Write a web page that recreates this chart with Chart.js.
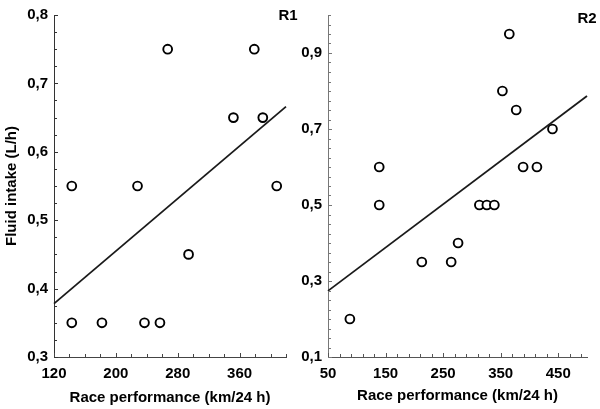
<!DOCTYPE html>
<html>
<head>
<meta charset="utf-8">
<script src="https://cdn.jsdelivr.net/npm/chart.js@4"></script>
<style>
  html, body { margin: 0; padding: 0; background: #fff; }
  #wrap { position: relative; width: 600px; height: 409px; }
  canvas { position: absolute; top: 0; }
  #c1 { left: 0; }
  #c2 { left: 300px; }
</style>
</head>
<body>
<div id="wrap">
  <canvas id="c1" width="300" height="409"></canvas>
  <canvas id="c2" width="300" height="409"></canvas>
</div>
<script>
// ---- Data ----
const r1X = [143, 228, 267, 379, 352, 390, 408, 294, 143, 182, 237, 257];
const r1Y = [0.55, 0.55, 0.75, 0.75, 0.65, 0.65, 0.55, 0.45, 0.35, 0.35, 0.35, 0.35];
const r1FitX = [120, 420];
const r1FitY = [0.378, 0.666];

const r2X = [365, 353, 377, 440, 389, 413, 139, 139, 313, 326, 339, 276, 213, 264, 88];
const r2Y = [0.95, 0.80, 0.75, 0.70, 0.60, 0.60, 0.60, 0.50, 0.50, 0.50, 0.50, 0.40, 0.35, 0.35, 0.20];
const r2FitX = [50, 500];
const r2FitY = [0.274, 0.787];

// Axis ranges and tick labels
const r1XRange = [120, 420];
const r1XMinorStep = 20;
const r1XLabels = [120, 200, 280, 360];
const r1YRange = [0.3, 0.8];
const r1YMinorStep = 0.025;
const r1YLabels = [0.3, 0.4, 0.5, 0.6, 0.7, 0.8];

const r2XRange = [50, 500];
const r2XMinorStep = 20;
const r2XLabels = [50, 150, 250, 350, 450];
const r2YRange = [0.1, 1.0];
const r2YMinorStep = 0.025;
const r2YLabels = [0.1, 0.3, 0.5, 0.7, 0.9];

const xTitle = 'Race performance (km/24 h)';
const yTitle = 'Fluid intake (L/h)';

// ---- Helpers ----
const FONT = { family: '"Liberation Sans", Arial, sans-serif', size: 15, weight: 'bold' };

function pts(xs, ys) { return xs.map((x, i) => ({ x: x, y: ys[i] })); }

function minorTicks(range, step) {
  const out = [];
  const n = Math.round((range[1] - range[0]) / step);
  for (let i = 0; i <= n; i++) {
    const v = +(range[0] + i * step).toFixed(6);
    if (v <= range[1] + 1e-9) out.push({ value: v });
  }
  return out;
}

function isLabel(v, labels) { return labels.some(l => Math.abs(l - v) < 1e-6); }

function fmt(v, dec) { return v.toFixed(dec).replace('.', ','); }

const innerTicks = {
  id: 'innerTicks',
  afterDraw(chart) {
    const ctx = chart.ctx;
    const area = chart.chartArea;
    ctx.save();
    ctx.lineWidth = 1;
    const xs = chart.scales.x, ys = chart.scales.y;
    ctx.strokeStyle = xs.options.border.color;
    xs.ticks.forEach(t => {
      const px = Math.round(xs.getPixelForValue(t.value)) + 0.5;
      const len = isLabel(t.value, xs.options.majorList) ? 4 : 3;
      ctx.beginPath(); ctx.moveTo(px, area.bottom); ctx.lineTo(px, area.bottom - len); ctx.stroke();
    });
    ctx.strokeStyle = ys.options.border.color;
    ys.ticks.forEach(t => {
      const py = Math.round(ys.getPixelForValue(t.value)) + 0.5;
      const len = isLabel(t.value, ys.options.majorList) ? 4 : 3;
      ctx.beginPath(); ctx.moveTo(area.left, py); ctx.lineTo(area.left + len, py); ctx.stroke();
    });
    const lbl = chart.options.plugins.panelLabel;
    if (lbl) {
      ctx.fillStyle = '#000';
      ctx.font = 'bold 15px "Liberation Sans", Arial, sans-serif';
      ctx.textAlign = 'center';
      ctx.textBaseline = 'middle';
      ctx.fillText(lbl.text, lbl.x, lbl.y);
    }
    ctx.restore();
  }
};

function makeChart(id, cfg) {
  return new Chart(document.getElementById(id), {
    type: 'scatter',
    data: {
      datasets: [
        {
          type: 'line',
          data: pts(cfg.fitX, cfg.fitY),
          borderColor: '#1a1a1a',
          borderWidth: 1.8,
          pointRadius: 0,
          fill: false,
          clip: false
        },
        {
          data: pts(cfg.x, cfg.y),
          pointRadius: 4.4,
          pointHoverRadius: 4.4,
          pointBorderWidth: 1.9,
          pointBorderColor: '#000',
          pointBackgroundColor: '#fff',
          clip: false
        }
      ]
    },
    options: {
      responsive: false,
      animation: false,
      devicePixelRatio: 1,
      layout: { padding: { top: 13, right: cfg.padRight, left: 0, bottom: 0 } },
      plugins: {
        legend: { display: false },
        tooltip: { enabled: false },
        panelLabel: cfg.panel
      },
      scales: {
        x: {
          type: 'linear',
          min: cfg.xRange[0], max: cfg.xRange[1],
          majorList: cfg.xLabels,
          afterBuildTicks: s => { s.ticks = minorTicks(cfg.xRange, cfg.xStep); },
          afterFit: s => { s.height = 52; },
          grid: { display: true, drawOnChartArea: false, drawTicks: false },
          border: { display: true, color: cfg.xAxisColor, width: 1 },
          ticks: {
            autoSkip: false, maxRotation: 0, padding: 8, color: '#000', font: FONT,
            callback: v => isLabel(v, cfg.xLabels) ? String(Math.round(v)) : ''
          },
          title: {
            display: true, text: xTitle, color: '#000', font: FONT,
            padding: { top: 0, bottom: cfg.xTitlePad }
          }
        },
        y: {
          type: 'linear',
          min: cfg.yRange[0], max: cfg.yRange[1],
          majorList: cfg.yLabels,
          afterBuildTicks: s => { s.ticks = minorTicks(cfg.yRange, cfg.yStep); },
          afterFit: s => { s.width = cfg.yWidth; },
          grid: { display: true, drawOnChartArea: false, drawTicks: false },
          border: { display: true, color: cfg.yAxisColor, width: 1 },
          ticks: {
            autoSkip: false, padding: 6, color: '#000', font: FONT,
            callback: v => isLabel(v, cfg.yLabels) ? fmt(v, 1) : ''
          },
          title: {
            display: cfg.showYTitle, text: yTitle, color: '#000', font: FONT,
            padding: { top: 3, bottom: 0 }
          }
        }
      }
    },
    plugins: [innerTicks]
  });
}

makeChart('c1', {
  x: r1X, y: r1Y, fitX: r1FitX, fitY: r1FitY,
  xRange: r1XRange, xStep: r1XMinorStep, xLabels: r1XLabels,
  yRange: r1YRange, yStep: r1YMinorStep, yLabels: r1YLabels,
  yWidth: 54, padRight: 14, xTitlePad: 2, showYTitle: true,
  xAxisColor: '#444', yAxisColor: '#333',
  panel: { text: 'R1', x: 288, y: 16 }
});

makeChart('c2', {
  x: r2X, y: r2Y, fitX: r2FitX, fitY: r2FitY,
  xRange: r2XRange, xStep: r2XMinorStep, xLabels: r2XLabels,
  yRange: r2YRange, yStep: r2YMinorStep, yLabels: r2YLabels,
  yWidth: 28, padRight: 13, xTitlePad: 4, showYTitle: false,
  xAxisColor: '#555', yAxisColor: '#777',
  panel: { text: 'R2', x: 287, y: 19 }
});
</script>
</body>
</html>
